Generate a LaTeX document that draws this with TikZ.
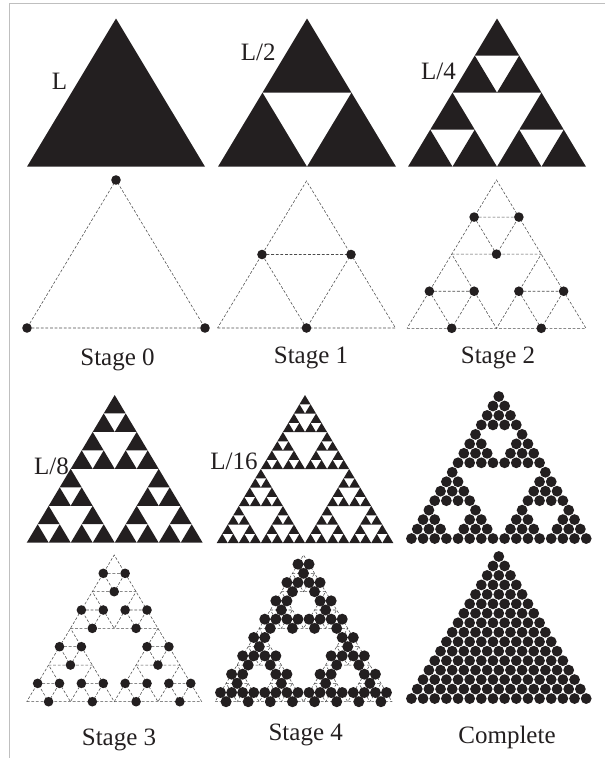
\documentclass[tikz,border=0pt]{standalone}
\usepackage{fontspec}
\setmainfont{Liberation Serif}
\definecolor{blk}{RGB}{35,31,32}
\tikzset{
  lbl/.style={font=\fontsize{25}{30}\selectfont, text=blk, inner sep=0pt, anchor=base},
  dsh/.style={draw=black!70, line width=0.55pt, dash pattern=on 2.8pt off 1.8pt},
  frame/.style={draw=black!25, line width=1pt},
}
% bitwise test: \SOK=1 iff (#1 AND #2)=0
\newcommand\SierpOK[2]{\pgfmathtruncatemacro\SOK{(1-mod(#1,2)*mod(#2,2))*(1-mod(floor(#1/2),2)*mod(floor(#2/2),2))*(1-mod(floor(#1/4),2)*mod(floor(#2/4),2))*(1-mod(floor(#1/8),2)*mod(floor(#2/8),2))}}
% black Sierpinski triangle: level, xleft, xright, ytop, ybottom
\newcommand\SierpBlack[5]{%
  \pgfmathtruncatemacro\SBN{2^(#1)}%
  \pgfmathsetmacro\SBS{(#3-#2)/\SBN}%
  \pgfmathsetmacro\SBH{(#5-#4)/\SBN}%
  \pgfmathsetmacro\SBA{(#2+#3)/2}%
  \pgfmathtruncatemacro\SBM{\SBN-1}%
  \foreach \i in {0,...,\SBM}{%
    \foreach \j in {0,...,\i}{%
      \pgfmathtruncatemacro\SBB{\i-\j}%
      \SierpOK{\j}{\SBB}%
      \ifnum\SOK=1
        \pgfmathsetmacro\SBX{\SBA+(\j-\i/2)*\SBS}%
        \pgfmathsetmacro\SBY{#4+\i*\SBH}%
        \fill[blk] (\SBX,\SBY) -- ++(-\SBS/2,\SBH) -- ++(\SBS,0) -- cycle;
      \fi
    }%
  }%
}
% dashed stage with dots: level, xleft, xright, ytop, ybottom, dot radius
\newcommand\SierpDash[6]{%
  \pgfmathsetmacro\SDA{(#2+#3)/2}%
  \draw[dsh] (#2,#5) -- (#3,#5) -- (\SDA,#4) -- cycle;
  \ifnum#1=0
    \fill[blk] (#2,#5) circle[radius=#6pt] (#3,#5) circle[radius=#6pt] (\SDA,#4) circle[radius=#6pt];
  \else
    \pgfmathtruncatemacro\SDM{#1-1}%
    \foreach \k in {0,...,\SDM}{%
      \pgfmathtruncatemacro\SDN{2^\k}%
      \pgfmathsetmacro\SDS{(#3-#2)/\SDN}%
      \pgfmathsetmacro\SDH{(#5-#4)/\SDN}%
      \pgfmathtruncatemacro\SDK{\SDN-1}%
      \foreach \i in {0,...,\SDK}{%
        \foreach \j in {0,...,\i}{%
          \pgfmathtruncatemacro\SDB{\i-\j}%
          \SierpOK{\j}{\SDB}%
          \ifnum\SOK=1
            \pgfmathsetmacro\SDX{\SDA+(\j-\i/2)*\SDS}%
            \pgfmathsetmacro\SDY{#4+\i*\SDH}%
            \draw[dsh] (\SDX-\SDS/4,\SDY+\SDH/2) -- (\SDX+\SDS/4,\SDY+\SDH/2) -- (\SDX,\SDY+\SDH) -- cycle;
            \ifnum\k=\SDM
              \fill[blk] (\SDX-\SDS/4,\SDY+\SDH/2) circle[radius=#6pt] (\SDX+\SDS/4,\SDY+\SDH/2) circle[radius=#6pt] (\SDX,\SDY+\SDH) circle[radius=#6pt];
            \fi
          \fi
        }%
      }%
    }%
  \fi
}
% packed balls, 16 rows: apex centre y, holes flag
\newcommand\SierpBalls[2]{%
  \foreach \i in {0,...,15}{%
    \foreach \j in {0,...,\i}{%
      \pgfmathtruncatemacro\SCB{\i-\j}%
      \pgfmathtruncatemacro\SCa{mod(\j,8)}%
      \pgfmathtruncatemacro\SCb{mod(\SCB,8)}%
      \pgfmathtruncatemacro\SCok{1-#2*max((\j<8)*(\SCB<8)*(\i>7),(\SCa<4)*(\SCb<4)*(\SCa+\SCb>3))}%
      \ifnum\SCok=1
        \fill[blk] ({498.8+(\j-\i/2)*11.65},{#1+\i*9.47}) circle[radius=5.4pt];
      \fi
    }%
  }%
}
\begin{document}
\begin{tikzpicture}[x=1pt,y=-1pt]
\useasboundingbox (0,0) rectangle (605,758);
\draw[frame] (9,758) -- (9,3) -- (605,3);
% row 1
\SierpBlack{0}{27}{205}{18.5}{166.7}
\SierpBlack{1}{218}{396}{18.5}{166.7}
\SierpBlack{2}{408}{586}{18.5}{166.7}
\node[lbl] (l0) at (59.5,89) {L};
\node[lbl] (l1) at (258.3,60.7) {L/2};
\node[lbl] (l2) at (438.5,79.3) {L/4};
% row 2
\SierpDash{0}{27}{205}{180}{328}{4.8}
\SierpDash{1}{217.5}{395.5}{181}{328}{4.8}
\SierpDash{2}{407}{586}{180}{328.3}{4.8}
\node[lbl] (s0) at (117.5,365) {Stage 0};
\node[lbl] (s1) at (311,363) {Stage 1};
\node[lbl] (s2) at (498,363) {Stage 2};
% row 3
\SierpBlack{3}{26.7}{202.7}{395}{542.7}
\SierpBlack{4}{216.7}{393.3}{395}{543}
\SierpBalls{396.5}{1}
\node[lbl] (l3) at (51.5,474) {L/8};
\node[lbl] (l4) at (234,469) {L/16};
% row 4
\SierpDash{3}{26.7}{201.7}{555}{701.7}{4.8}
\SierpDash{4}{215}{392}{555}{701.7}{5.5}
\SierpBalls{556.5}{0}
\node[lbl] (s3) at (119,745) {Stage 3};
\node[lbl] (s4) at (305.7,740) {Stage 4};
\node[lbl] (s5) at (507,743) {Complete};
\end{tikzpicture}
\end{document}
